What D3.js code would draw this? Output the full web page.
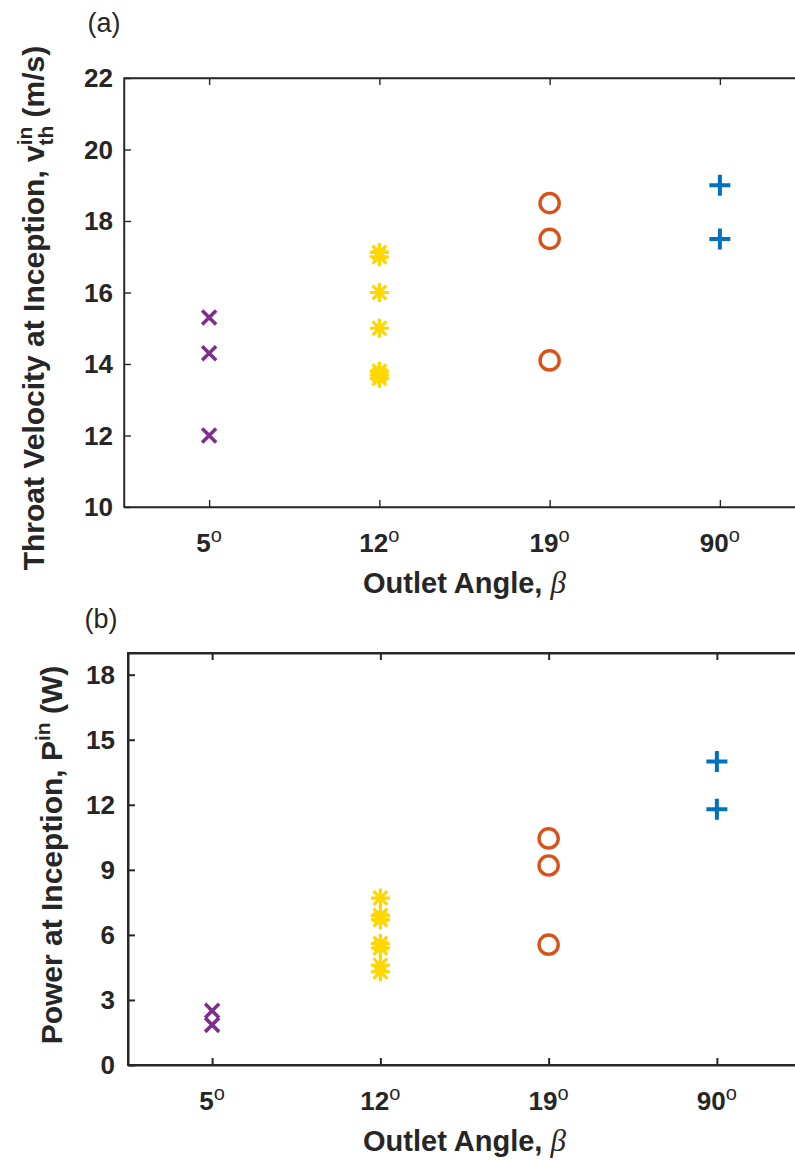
<!DOCTYPE html>
<html>
<head>
<meta charset="utf-8">
<script src="https://cdn.jsdelivr.net/npm/d3@7"></script>
<style>
  html, body { margin: 0; padding: 0; background: #fff; }
  svg { display: block; }
  text { font-family: "Liberation Sans", Arial, Helvetica, sans-serif; fill: #262626; }
</style>
</head>
<body>
<svg id="fig" width="795" height="1160"></svg>
<script>
// Outlet angle categories
const categories = ["5", "12", "19", "90"];

// (a) throat velocity at inception (m/s) per outlet angle
const velocity5  = [15.3, 14.3, 12.0];
const velocity12 = [17.0, 17.12, 16.0, 15.0, 13.6, 13.7, 13.8];
const velocity19 = [18.5, 17.5, 14.1];
const velocity90 = [19.0, 17.5];

// (b) power at inception (W) per outlet angle
const power5  = [2.5, 1.85];
const power12 = [7.7, 6.9, 6.7, 5.6, 5.4, 4.6, 4.3];
const power19 = [10.45, 9.2, 5.55];
const power90 = [14.0, 11.8];

// Axis ticks
const velocityTicks = [10, 12, 14, 16, 18, 20, 22];
const powerTicks = [0, 3, 6, 9, 12, 15, 18];

const svg = d3.select("#fig");
const axisColor = "#262626";

// marker shapes (stroked, MATLAB-like)
const markerPath = {
  x: s => `M${-s},${-s}L${s},${s}M${-s},${s}L${s},${-s}`,
  plus: s => `M${-s},0H${s}M0,${-s}V${s}`,
  star: s => { const d = s * 0.72; return `M${-s},0H${s}M0,${-s}V${s}M${-d},${-d}L${d},${d}M${-d},${d}L${d},${-d}`; }
};

const seriesStyle = [
  { cat: "5",  kind: "x",      color: "#7E2F8E", size: 7,   width: 3.6 },
  { cat: "12", kind: "star",   color: "#FFD700", size: 9.5, width: 3.2 },
  { cat: "19", kind: "circle", color: "#D95319", size: 9.6, width: 3.4 },
  { cat: "90", kind: "plus",   color: "#0072BD", size: 10.5, width: 4 }
];

function drawPanel(cfg) {
  const g = svg.append("g");
  const x = d3.scalePoint().domain(categories).range([cfg.left, cfg.right]).padding(0.5);
  const y = d3.scaleLinear().domain(cfg.yDomain).range([cfg.bottom, cfg.top]);

  // axes (ticks pointing inward, box closed on top)
  const bottomAxis = g.append("g").attr("transform", `translate(0,${cfg.bottom})`)
    .call(d3.axisBottom(x).tickSize(-cfg.tick).tickSizeOuter(0).tickFormat(""));
  const topAxis = g.append("g").attr("transform", `translate(0,${cfg.top})`)
    .call(d3.axisTop(x).tickSize(-cfg.tick).tickSizeOuter(0).tickFormat(""));
  const leftAxis = g.append("g").attr("transform", `translate(${cfg.left},0)`)
    .call(d3.axisLeft(y).tickValues(cfg.ticks).tickSize(-cfg.tick).tickSizeOuter(0).tickFormat(""));
  [bottomAxis, topAxis, leftAxis].forEach(a => {
    a.select(".domain").attr("stroke", axisColor).attr("stroke-width", cfg.lw);
    a.selectAll(".tick line").attr("stroke", axisColor).attr("stroke-width", cfg.lw);
  });
  g.append("rect")
    .attr("x", cfg.left).attr("y", cfg.top)
    .attr("width", cfg.right - cfg.left).attr("height", cfg.bottom - cfg.top)
    .attr("fill", "none").attr("stroke", axisColor).attr("stroke-width", cfg.lw);

  // y tick labels
  g.selectAll(".ylab").data(cfg.ticks).join("text")
    .attr("x", cfg.left - cfg.ylabGap).attr("y", d => y(d))
    .attr("dy", "0.36em").attr("text-anchor", "end")
    .attr("font-size", 26).attr("font-weight", "bold")
    .text(d => d);

  // x tick labels with degree superscript
  const xl = g.selectAll(".xlab").data(categories).join("text")
    .attr("x", d => x(d)).attr("y", cfg.bottom + 45)
    .attr("text-anchor", "middle").attr("font-size", 26).attr("font-weight", "bold");
  xl.append("tspan").text(d => d);
  xl.append("tspan").attr("font-size", 20).attr("font-weight", "normal").attr("dy", -10).text("o");

  // x title
  const xt = g.append("text")
    .attr("x", (cfg.left + cfg.right) / 2).attr("y", cfg.bottom + 86)
    .attr("text-anchor", "middle").attr("font-size", 29).attr("font-weight", "bold");
  xt.append("tspan").text("Outlet Angle,  ");
  xt.append("tspan").attr("font-family", "'Liberation Serif', 'DejaVu Serif', serif")
    .attr("font-style", "italic").attr("font-weight", "normal").attr("font-size", 31).text("β");

  // y title (rotated)
  const yt = g.append("text")
    .attr("transform", `translate(${cfg.ytitleX},${cfg.ytitleY}) rotate(-90)`)
    .attr("text-anchor", "middle").attr("font-size", 30).attr("font-weight", "bold");
  cfg.ytitle(yt);

  // panel letter
  g.append("text").attr("x", cfg.letterX).attr("y", cfg.letterY)
    .attr("text-anchor", "middle").attr("font-size", 27).text(cfg.letter);

  // markers
  seriesStyle.forEach((s, i) => {
    const vals = cfg.values[i];
    const mg = g.append("g");
    if (s.kind === "circle") {
      mg.selectAll("circle").data(vals).join("circle")
        .attr("cx", x(s.cat)).attr("cy", d => y(d)).attr("r", s.size)
        .attr("fill", "none").attr("stroke", s.color).attr("stroke-width", s.width);
    } else {
      mg.selectAll("path").data(vals).join("path")
        .attr("transform", d => `translate(${x(s.cat)},${y(d)})`)
        .attr("d", markerPath[s.kind](s.size))
        .attr("fill", "none").attr("stroke", s.color).attr("stroke-width", s.width)
        .attr("stroke-linecap", "butt");
    }
  });
}

drawPanel({
  left: 124, right: 805, top: 78, bottom: 507, lw: 1.4, tick: 7, ylabGap: 11,
  yDomain: [10, 22], ticks: velocityTicks,
  values: [velocity5, velocity12, velocity19, velocity90],
  letter: "(a)", letterX: 104, letterY: 32, ytitleX: 44, ytitleY: 308,
  ytitle: t => {
    t.append("tspan").text("Throat Velocity at Inception, v");
    t.append("tspan").attr("font-size", 21).attr("dy", -12).text("in");
    t.append("tspan").attr("font-size", 21).attr("dx", -19).attr("dy", 21).text("th");
    t.append("tspan").attr("dy", -9).text(" (m/s)");
  }
});

drawPanel({
  left: 128, right: 801, top: 653, bottom: 1065, lw: 2, tick: 7, ylabGap: 13,
  yDomain: [0, 19], ticks: powerTicks,
  values: [power5, power12, power19, power90],
  letter: "(b)", letterX: 101, letterY: 628, ytitleX: 62, ytitleY: 855,
  ytitle: t => {
    t.append("tspan").text("Power at Inception, P");
    t.append("tspan").attr("font-size", 21).attr("dy", -12).text("in");
    t.append("tspan").attr("dy", 12).text(" (W)");
  }
});
</script>
</body>
</html>
